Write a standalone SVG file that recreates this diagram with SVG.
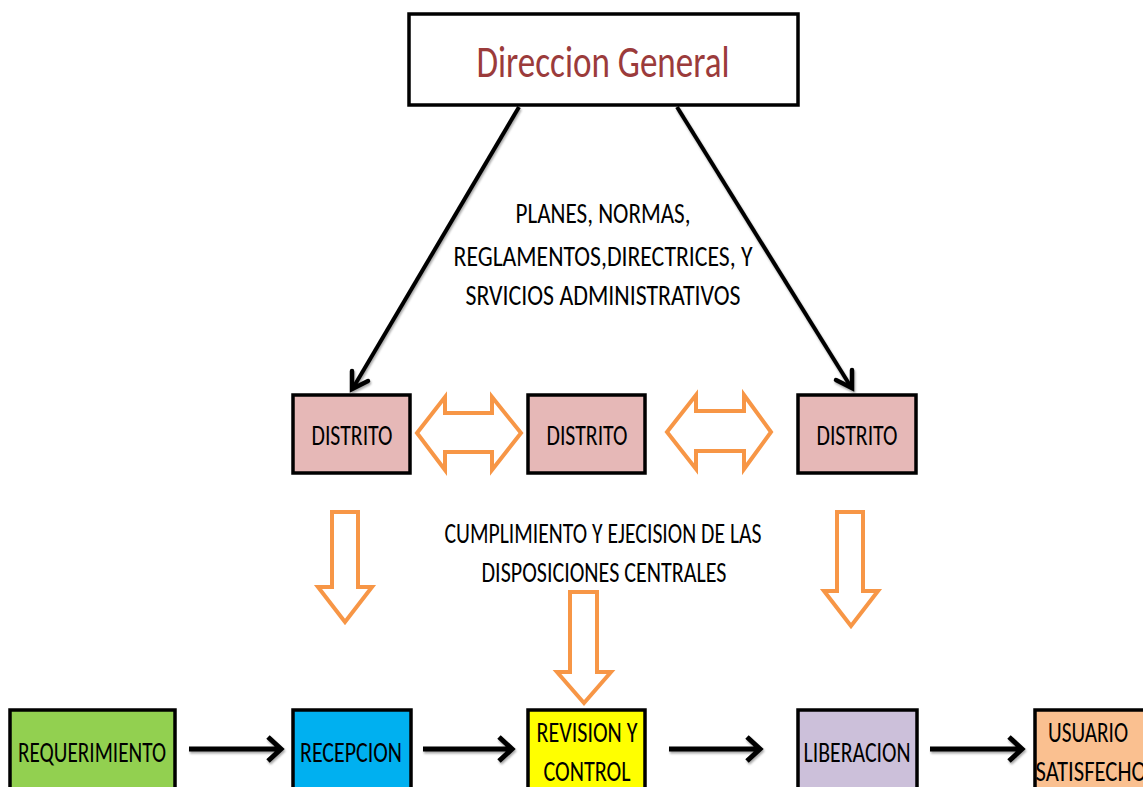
<svg xmlns="http://www.w3.org/2000/svg" width="1143" height="787" viewBox="0 0 1143 787">
  <style>
    .t { font-family: "Carlito", "Liberation Sans Narrow", "Liberation Sans", sans-serif; fill: #000; text-anchor: middle; font-size: 28px; }
    .box { stroke: #000; stroke-width: 3.5; }
    .dist { fill: #e6b8b7; }
    .orange { fill: #fff; stroke: #f79646; stroke-width: 4; stroke-linejoin: miter; }
    .flow { stroke: #000; stroke-width: 5; fill: none; }
    .diag { stroke: #000; stroke-width: 4; fill: none; }
    .head { stroke: #000; stroke-width: 4.5; fill: none; stroke-linecap: round; stroke-linejoin: miter; }
  </style>
  <defs>
    <filter id="shadow" x="-20%" y="-20%" width="140%" height="160%">
      <feDropShadow dx="1" dy="2" stdDeviation="1.2" flood-color="#000" flood-opacity="0.35"/>
    </filter>
  </defs>

  <rect width="1143" height="787" fill="#fff"/>

  <!-- head office -->
  <g id="direccion">
    <rect class="box" x="409" y="14" width="389" height="91" fill="#fff"/>
    <text class="t" x="603" y="77" style="font-size:46px; fill:#9b3b3b" textLength="253" lengthAdjust="spacingAndGlyphs">Direccion General</text>
  </g>

  <!-- connectors -->
  <g id="connectors">
    <g filter="url(#shadow)">
      <line class="diag" x1="519" y1="107" x2="353" y2="388"/>
      <path class="head" d="M352,371 L352,389 L368,381"/>
      <line class="diag" x1="677" y1="107" x2="851" y2="387"/>
      <path class="head" d="M836,380 L852,388 L852,370"/>
    </g>
    <!-- two-way links between districts -->
    <path class="orange" d="M417,433 L445,397 L445,413 L492,413 L492,397 L521,433 L492,470 L492,452 L445,452 L445,470 Z"/>
    <path class="orange" d="M667,432 L696,395 L696,411 L744,411 L744,395 L771,432 L744,469 L744,451 L696,451 L696,469 Z"/>
    <!-- downward flows -->
    <path class="orange" d="M332,512 L358,512 L358,587 L372,587 L345,622 L318,587 L332,587 Z"/>
    <path class="orange" d="M837,512 L863,512 L863,591 L878,591 L851,626 L824,591 L837,591 Z"/>
    <path class="orange" d="M570,592 L597,592 L597,672 L611,672 L584,703 L557,672 L570,672 Z"/>
    <!-- process chain -->
    <g filter="url(#shadow)">
      <path class="flow" d="M189,749 H280 M268,737 L281,749 L268,761"/>
      <path class="flow" d="M423,749 H511 M499,737 L512,749 L499,761"/>
      <path class="flow" d="M669,749 H759 M747,737 L760,749 L747,761"/>
      <path class="flow" d="M930,749 H1021 M1009,737 L1022,749 L1009,761"/>
    </g>
  </g>

  <!-- annotations -->
  <g id="notes">
    <text class="t" x="603" y="223" textLength="175" lengthAdjust="spacingAndGlyphs">PLANES, NORMAS,</text>
    <text class="t" x="603" y="266" textLength="299" lengthAdjust="spacingAndGlyphs">REGLAMENTOS,DIRECTRICES, Y</text>
    <text class="t" x="603" y="305" textLength="275" lengthAdjust="spacingAndGlyphs">SRVICIOS ADMINISTRATIVOS</text>
    <text class="t" x="603" y="543" textLength="317" lengthAdjust="spacingAndGlyphs">CUMPLIMIENTO Y EJECISION DE LAS</text>
    <text class="t" x="604" y="582" textLength="245" lengthAdjust="spacingAndGlyphs">DISPOSICIONES CENTRALES</text>
  </g>

  <!-- districts -->
  <g id="distrito-1">
    <rect class="box dist" x="293" y="395" width="117" height="78"/>
    <text class="t" x="352" y="445" textLength="81" lengthAdjust="spacingAndGlyphs">DISTRITO</text>
  </g>
  <g id="distrito-2">
    <rect class="box dist" x="528" y="395" width="117" height="78"/>
    <text class="t" x="587" y="445" textLength="81" lengthAdjust="spacingAndGlyphs">DISTRITO</text>
  </g>
  <g id="distrito-3">
    <rect class="box dist" x="798" y="395" width="118" height="78"/>
    <text class="t" x="857" y="445" textLength="81" lengthAdjust="spacingAndGlyphs">DISTRITO</text>
  </g>

  <!-- process steps -->
  <g id="requerimiento">
    <rect class="box" x="10" y="710" width="165" height="90" fill="#92d050"/>
    <text class="t" x="92" y="762" textLength="148" lengthAdjust="spacingAndGlyphs">REQUERIMIENTO</text>
  </g>
  <g id="recepcion">
    <rect class="box" x="293" y="710" width="118" height="90" fill="#00b0f0"/>
    <text class="t" x="351" y="762" textLength="102" lengthAdjust="spacingAndGlyphs">RECEPCION</text>
  </g>
  <g id="revision">
    <rect class="box" x="528" y="710" width="117" height="90" fill="#ffff00"/>
    <text class="t" x="587" y="742" textLength="101" lengthAdjust="spacingAndGlyphs">REVISION Y</text>
    <text class="t" x="587" y="781" textLength="87" lengthAdjust="spacingAndGlyphs">CONTROL</text>
  </g>
  <g id="liberacion">
    <rect class="box" x="798" y="710" width="119" height="90" fill="#ccc0da"/>
    <text class="t" x="857" y="762" textLength="107" lengthAdjust="spacingAndGlyphs">LIBERACION</text>
  </g>
  <g id="usuario">
    <rect class="box" x="1035" y="710" width="130" height="90" fill="#fac090"/>
    <text class="t" x="1088" y="742" textLength="80" lengthAdjust="spacingAndGlyphs">USUARIO</text>
    <text class="t" x="1091" y="781" textLength="111" lengthAdjust="spacingAndGlyphs">SATISFECHO</text>
  </g>
</svg>
